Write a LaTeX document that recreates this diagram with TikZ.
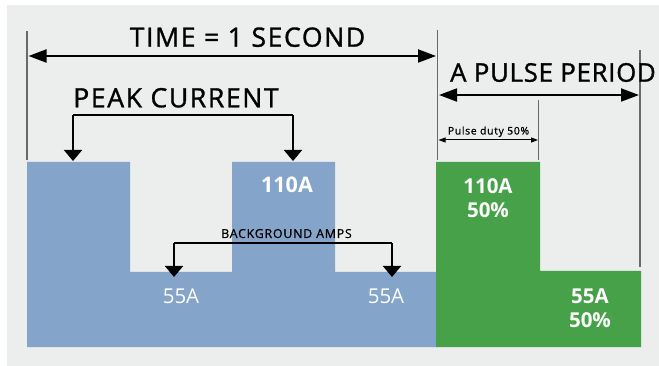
\documentclass[tikz,border=0pt]{standalone}
\usepackage{fontspec}
\setmainfont{Open Sans}
\newfontfamily\headfont{Open Sans}[FakeBold=1.2,LetterSpace=6]
\newfontfamily\periodfont{Open Sans}[FakeBold=1.2,LetterSpace=3]
\newfontfamily\labfont{Open Sans}[FakeBold=0.8,LetterSpace=6]
\usetikzlibrary{arrows.meta}
\definecolor{bgc}{RGB}{236,237,237}
\definecolor{bluebar}{RGB}{132,164,201}
\definecolor{greenbar}{RGB}{71,161,72}
\definecolor{guide}{RGB}{105,105,105}
\tikzset{
  big/.style={font=\headfont\fontsize{26.6}{30}\selectfont, anchor=base, inner sep=0pt},
  small/.style={font=\labfont\fontsize{12.4}{14}\selectfont, anchor=base, inner sep=0pt},
  tiny/.style={font=\labfont\fontsize{10.5}{12}\selectfont, anchor=base, inner sep=0pt},
  val/.style={font=\fontsize{20.5}{24}\selectfont, text=white, anchor=base, inner sep=0pt},
  valb/.style={font=\bfseries\fontsize{20.5}{24}\selectfont, text=white, anchor=base, inner sep=0pt},
  guideline/.style={draw=guide, line width=1.6pt},
  dimarrow/.style={line width=2pt, {Triangle[length=18pt,width=13pt]}-{Triangle[length=18pt,width=13pt]}},
  smallarrow/.style={line width=1pt, {Triangle[length=7pt,width=5pt]}-{Triangle[length=7pt,width=5pt]}},
  bracket/.style={line width=1.8pt, -{Triangle[length=11pt,width=18pt]}},
}
\begin{document}
\begin{tikzpicture}[x=1pt,y=-1pt]
\useasboundingbox (0,0) rectangle (659,366);
\fill[bgc] (7,5) rectangle (659,366);
% bars
\fill[bluebar] (27,162) -- (130,162) -- (130,272) -- (232,272) -- (232,162) -- (335,162) -- (335,272) -- (437,272) -- (437,347) -- (27,347) -- cycle;
\fill[greenbar] (436,162) -- (540,162) -- (540,271) -- (641,271) -- (641,347) -- (436,347) -- cycle;
% guide lines
\coordinate (g1t) at (27,31);   \coordinate (g1b) at (27,160);
\coordinate (g2t) at (437.5,30); \coordinate (g2b) at (437.5,160);
\coordinate (g3t) at (538.5,100); \coordinate (g3b) at (538.5,160);
\coordinate (g4t) at (640,50);  \coordinate (g4b) at (640,267);
\draw[guideline] (g1t) -- (g1b);
\draw[guideline] (g2t) -- (g2b);
\draw[guideline] (g3t) -- (g3b);
\draw[guideline] (g4t) -- (g4b);
% time arrow
\coordinate (tl) at (28.5,56); \coordinate (tr) at (436,56);
\draw[dimarrow] (tl) -- (tr);
\node[big] (time) at (247.5,46.7) {TIME = 1 SECOND};
% pulse period
\coordinate (pl) at (439,95); \coordinate (pr) at (639,95);
\draw[dimarrow] (pl) -- (pr);
\node[big, font=\periodfont\fontsize{25.7}{30}\selectfont] (period) at (553,81.7) {A PULSE PERIOD};
% pulse duty
\coordinate (dl) at (438.5,140); \coordinate (dr) at (538,140);
\draw[smallarrow] (dl) -- (dr);
\node[tiny] (duty) at (488.5,134.5) {Pulse duty 50\%};
% peak current
\node[big] (peak) at (176,107.3) {PEAK CURRENT};
\coordinate (pk1) at (73,161); \coordinate (pk2) at (293,161);
\draw[bracket] (73,115) coordinate (pkl) -- (pk1);
\draw[bracket] (293,115) coordinate (pkr) -- (pk2);
\draw[line width=1.8pt] (pkl) -- (pkr);
% background amps
\node[small] (bg) at (286.5,238) {BACKGROUND AMPS};
\coordinate (bg1) at (174,277); \coordinate (bg2) at (392,277);
\draw[bracket] (174,243.3) coordinate (bgl) -- (bg1);
\draw[bracket] (392,243.3) coordinate (bgr) -- (bg2);
\draw[line width=1.8pt] (bgl) -- (bgr);
% values
\node[valb, font=\bfseries\fontsize{21.5}{24}\selectfont] (b110) at (287,192.7) {110A};
\node[val] (b55a) at (181,304) {55A};
\node[val] (b55b) at (386,304) {55A};
\node[valb] (g110) at (488,194) {110A};
\node[valb] (g50a) at (488,218) {50\%};
\node[valb] (g55) at (590,304) {55A};
\node[valb] (g50b) at (590,327) {50\%};
\end{tikzpicture}
\end{document}
